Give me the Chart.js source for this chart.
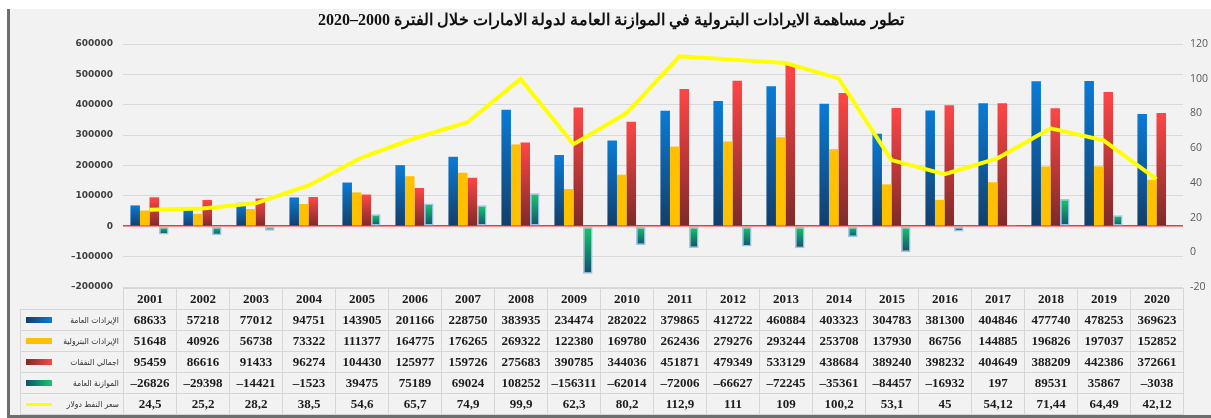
<!DOCTYPE html>
<html lang="ar">
<head>
<meta charset="utf-8">
<script src="https://cdn.jsdelivr.net/npm/chart.js@4.4.1/dist/chart.umd.min.js"></script>
<style>
html,body{margin:0;padding:0;background:#fff;width:1211px;height:418px;overflow:hidden;}
#frame{position:absolute;left:7px;top:9px;width:1204px;height:409px;background:#f2f2f2;border-left:3px solid #6e6e6e;border-bottom:3px solid #6e6e6e;box-sizing:border-box;}
#c{position:absolute;left:0;top:0;}
#title{position:absolute;top:10px;left:0;width:1222px;text-align:center;direction:rtl;font:bold 16px "Liberation Serif","DejaVu Serif",serif;color:#111;white-space:nowrap;}
.cell{position:absolute;box-sizing:border-box;border:1px solid #d6d6d6;text-align:center;font:bold 13px "Liberation Serif",serif;color:#1c1c1c;white-space:nowrap;overflow:hidden;}
.lab{direction:rtl;text-align:right;font:8.5px "DejaVu Sans Condensed","DejaVu Sans",sans-serif;color:#333;padding-right:4px;}
.sw{position:absolute;left:5px;width:26px;}
</style>
</head>
<body>
<div id="frame"></div>
<canvas id="c" width="1211" height="418"></canvas>
<div id="title">تطور مساهمة الايرادات البترولية في الموازنة العامة لدولة الامارات خلال الفترة 2000–2020</div>
<div id="tbl"></div>
<script>
const years = ['2001','2002','2003','2004','2005','2006','2007','2008','2009','2010','2011','2012','2013','2014','2015','2016','2017','2018','2019','2020'];
const totalRevenue = [68633,57218,77012,94751,143905,201166,228750,383935,234474,282022,379865,412722,460884,403323,304783,381300,404846,477740,478253,369623];
const oilRevenue = [51648,40926,56738,73322,111377,164775,176265,269322,122380,169780,262436,279276,293244,253708,137930,86756,144885,196826,197037,152852];
const totalExpenditure = [95459,86616,91433,96274,104430,125977,159726,275683,390785,344036,451871,479349,533129,438684,389240,398232,404649,388209,442386,372661];
const budgetBalance = [-26826,-29398,-14421,-1523,39475,75189,69024,108252,-156311,-62014,-72006,-66627,-72245,-35361,-84457,-16932,197,89531,35867,-3038];
const oilPrice = [24.5,25.2,28.2,38.5,54.6,65.7,74.9,99.9,62.3,80.2,112.9,111,109,100.2,53.1,45,54.12,71.44,64.49,42.12];
const seriesNames = ['الإيرادات العامة','الإيرادات البترولية','اجمالي النفقات','الموازنة العامة','سعر النفط دولار'];
const leftTicks = [-200000,-100000,0,100000,200000,300000,400000,500000,600000];
const rightTicks = [-20,0,20,40,60,80,100,120];

function grad(top, bottom) {
  return (ctx) => {
    const chart = ctx.chart, ca = chart.chartArea;
    if (!ca || ctx.type !== 'data') return top;
    const ys = chart.scales.y;
    const p0 = ys.getPixelForValue(0), p1 = ys.getPixelForValue(ctx.raw);
    const yt = Math.min(p0, p1), yb = Math.max(p0, p1);
    if (yb - yt < 1) return bottom;
    const g = chart.ctx.createLinearGradient(0, yt, 0, yb);
    g.addColorStop(0, top); g.addColorStop(1, bottom);
    return g;
  };
}

const fmt = v => String(v).replace('-', '–');

const chart = new Chart(document.getElementById('c'), {
  data: {
    labels: years,
    datasets: [
      {type:'line', label: seriesNames[4], data: oilPrice, yAxisID:'y1', borderColor:'#ffff00', borderWidth:4, pointRadius:0, tension:0, order:0},
      {type:'bar', label: seriesNames[0], data: totalRevenue, yAxisID:'y', backgroundColor: grad('#0a7bd6','#123e6a'), order:1},
      {type:'bar', label: seriesNames[1], data: oilRevenue, yAxisID:'y', backgroundColor: '#ffc000', order:1},
      {type:'bar', label: seriesNames[2], data: totalExpenditure, yAxisID:'y', backgroundColor: grad('#ff4646','#7e2a2a'), order:1},
      {type:'bar', label: seriesNames[3], data: budgetBalance, yAxisID:'y', backgroundColor: grad('#16c96c','#124f6e'), borderColor:'#9cc3e8', borderWidth:1.5, borderSkipped:false, order:1}
    ]
  },
  options: {
    responsive:false, animation:false,
    layout:{padding:{top:44,bottom:131,left:0,right:0}},
    datasets:{bar:{categoryPercentage:0.72, barPercentage:1.0}},
    plugins:{legend:{display:false}, tooltip:{enabled:false}, title:{display:false}},
    scales:{
      x:{type:'category', display:false, offset:true},
      y:{type:'linear', position:'left', min:leftTicks[0], max:leftTicks[leftTicks.length-1],
         afterFit: s => { s.width = 123; },
         border:{display:false},
         grid:{drawTicks:false, color: c => c.tick && c.tick.value === 0 ? '#ff3030' : '#d9d9d9', lineWidth: c => c.tick && c.tick.value === 0 ? 1.6 : 1},
         ticks:{stepSize: leftTicks[1]-leftTicks[0], padding:10, color:'#404040', font:{family:'DejaVu Sans', size:9, weight:'bold'}, callback: v => fmt(v)}},
      y1:{type:'linear', position:'right', min:rightTicks[0], max:rightTicks[rightTicks.length-1],
         afterFit: s => { s.width = 28; },
         border:{display:false},
         grid:{display:false, drawTicks:false},
         ticks:{stepSize: rightTicks[1]-rightTicks[0], padding:7, color:'#595959', font:{family:'Open Sans', size:10.5}, callback: v => String(v)}}
    }
  }
});

// Data table aligned with the chart's category columns
(function buildTable(){
  const ca = chart.chartArea;
  const tbl = document.getElementById('tbl');
  const n = years.length;
  const colW = (ca.right - ca.left) / n;
  const top = 288, rowH = 21, labLeft = 20;
  const rows = [totalRevenue, oilRevenue, totalExpenditure, budgetBalance, oilPrice.map(v => String(v).replace('.', ','))];
  const swatches = [
    'height:6px;background:linear-gradient(90deg,#123e6a,#0a7bd6);',
    'height:6px;background:#ffc000;',
    'height:6px;background:linear-gradient(90deg,#7e2a2a,#ff4646);',
    'height:6px;background:linear-gradient(90deg,#124f6e,#16c96c);',
    'height:3px;background:#ffff00;'
  ];
  function cell(x, y, w, h, html, cls) {
    const d = document.createElement('div');
    d.className = 'cell' + (cls ? ' ' + cls : '');
    d.style.left = Math.round(x) + 'px'; d.style.top = Math.round(y) + 'px';
    d.style.width = (Math.round(x + w) - Math.round(x) + 1) + 'px';
    d.style.height = (h + 1) + 'px';
    d.style.lineHeight = (h - 1) + 'px';
    d.innerHTML = html;
    tbl.appendChild(d);
    return d;
  }
  for (let i = 0; i < n; i++) cell(ca.left + i * colW, top, colW, rowH, years[i]);
  rows.forEach((arr, r) => {
    const y = top + (r + 1) * rowH;
    const d = cell(labLeft, y, ca.left - labLeft, rowH, '', 'lab');
    const t = document.createElement('span'); t.textContent = seriesNames[r]; d.appendChild(t);
    const sw = document.createElement('div'); sw.className = 'sw';
    sw.style.cssText += swatches[r] + 'top:' + (r === 4 ? 9 : 7) + 'px;';
    d.appendChild(sw);
    for (let i = 0; i < n; i++) cell(ca.left + i * colW, y, colW, rowH, fmt(arr[i]));
  });
})();
</script>
</body>
</html>
